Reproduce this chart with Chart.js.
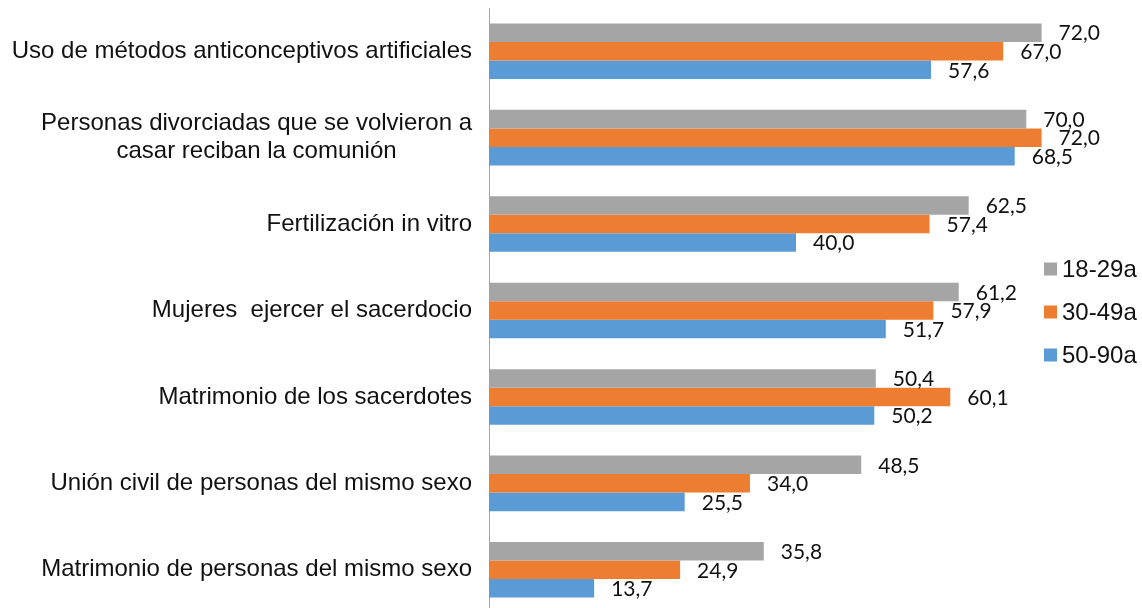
<!DOCTYPE html>
<html>
<head>
<meta charset="utf-8">
<script src="https://cdn.jsdelivr.net/npm/chart.js@4.4.1/dist/chart.umd.min.js"></script>
<style>
  html, body { margin: 0; padding: 0; background: #fff; overflow: hidden; }
  #grafica { display: block; }
</style>
</head>
<body>
<canvas id="grafica" width="1142" height="613"></canvas>
<script>
// datos
const categorias = [
    ["Uso de métodos anticonceptivos artificiales"],
    ["Personas divorciadas que se volvieron a", "casar reciban la comunión"],
    ["Fertilización in vitro"],
    ["Mujeres  ejercer el sacerdocio"],
    ["Matrimonio de los sacerdotes"],
    ["Unión civil de personas del mismo sexo"],
    ["Matrimonio de personas del mismo sexo"]
];
const series = ["18-29a", "30-49a", "50-90a"];
const valores1829 = [72.0, 70.0, 62.5, 61.2, 50.4, 48.5, 35.8];
const valores3049 = [67.0, 72.0, 57.4, 57.9, 60.1, 34.0, 24.9];
const valores5090 = [57.6, 68.5, 40.0, 51.7, 50.2, 25.5, 13.7];
const colores = ["#a5a5a5", "#ed7d31", "#5b9bd5"];

// etiquetas de categoria (centradas por linea, bloque alineado a la derecha)
const etiquetasEje = {
    id: "etiquetasEje",
    afterDraw(chart) {
        const ctx = chart.ctx;
        const y = chart.scales.y;
        ctx.save();
        ctx.font = "24px 'Liberation Sans', Arial, sans-serif";
        ctx.fillStyle = "#111";
        ctx.textAlign = "center";
        ctx.textBaseline = "middle";
        const derecha = y.right - 17;
        const alto = 28;
        categorias.forEach(function (lineas, i) {
            const yc = y.getPixelForTick(i);
            let ancho = 0;
            lineas.forEach(function (l) { ancho = Math.max(ancho, ctx.measureText(l).width); });
            const xc = derecha - ancho / 2;
            lineas.forEach(function (l, k) {
                ctx.fillText(l, xc, yc + (k - (lineas.length - 1) / 2) * alto);
            });
        });
        ctx.restore();
    }
};

// valores al final de cada barra
const etiquetasValor = {
    id: "etiquetasValor",
    afterDatasetsDraw(chart) {
        const ctx = chart.ctx;
        ctx.save();
        ctx.font = "21px Lato, 'Open Sans', sans-serif";
        ctx.fillStyle = "#111";
        ctx.textAlign = "left";
        ctx.textBaseline = "middle";
        chart.data.datasets.forEach(function (ds, i) {
            chart.getDatasetMeta(i).data.forEach(function (barra, j) {
                ctx.fillText(ds.data[j].toFixed(1).replace(".", ","), barra.x + 17, barra.y + 1);
            });
        });
        ctx.restore();
    }
};

// leyenda a la derecha
const leyenda = {
    id: "leyenda",
    afterDraw(chart) {
        const ctx = chart.ctx;
        ctx.save();
        ctx.font = "24px 'Liberation Sans', Arial, sans-serif";
        ctx.textAlign = "left";
        ctx.textBaseline = "middle";
        chart.data.datasets.forEach(function (ds, i) {
            const yc = 269 + i * 43;
            ctx.fillStyle = ds.backgroundColor;
            ctx.fillRect(1044, yc - 6.5, 13, 13);
            ctx.fillStyle = "#111";
            ctx.fillText(ds.label, 1062, yc + 1);
        });
        ctx.restore();
    }
};

const grafica = new Chart(document.getElementById("grafica").getContext("2d"), {
    type: "bar",
    data: {
        labels: categorias,
        datasets: [
            { label: series[0], data: valores1829, backgroundColor: colores[0] },
            { label: series[1], data: valores3049, backgroundColor: colores[1] },
            { label: series[2], data: valores5090, backgroundColor: colores[2] }
        ]
    },
    options: {
        indexAxis: "y",
        responsive: false,
        animation: false,
        layout: { padding: { top: 8, right: 39, bottom: 0, left: 0 } },
        datasets: {
            bar: { categoryPercentage: 0.643, barPercentage: 1.0, borderWidth: 0 }
        },
        scales: {
            x: {
                min: 0,
                max: 80,
                display: false
            },
            y: {
                grid: { display: false },
                border: { display: true, color: "#a6a6a6", width: 1 },
                ticks: { display: false },
                afterFit: function (s) { s.width = 489; }
            }
        },
        plugins: {
            legend: { display: false },
            tooltip: { enabled: false }
        }
    },
    plugins: [etiquetasEje, etiquetasValor, leyenda]
});
</script>
</body>
</html>
